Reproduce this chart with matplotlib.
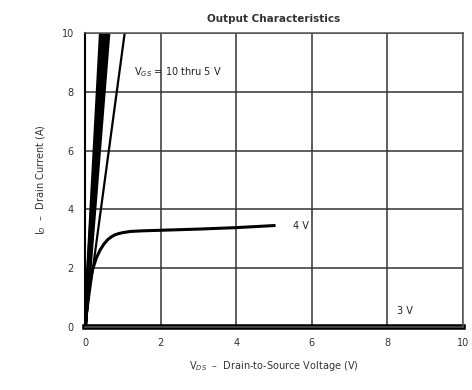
import numpy as np
import matplotlib.pyplot as plt

# drain current vs drain-source voltage
vgs_high = [10, 9, 8, 7, 6]
vds_at_10a = [0.42, 0.46, 0.51, 0.56, 0.62]
vds_5v = [0.0, 1.05]
id_5v = [0.0, 10.0]

vds_4v = [0.0, 0.1, 0.2, 0.3, 0.4, 0.5, 0.6, 0.7, 0.8, 0.9, 1.0, 1.2, 1.5, 2.0, 3.0, 4.0, 5.0]
id_4v = [0.0, 1.3, 1.95, 2.35, 2.62, 2.82, 2.97, 3.07, 3.14, 3.18, 3.21, 3.25, 3.27, 3.29, 3.33, 3.38, 3.45]

vds_3v = [0.0, 10.0]
id_3v = [0.0, 0.0]

xticks = [0, 2, 4, 6, 8, 10]
yticks = [0, 2, 4, 6, 8, 10]

fig = plt.figure(figsize=(4.72, 3.9), dpi=100)
ax = fig.add_axes([85 / 472, 63 / 390, 378 / 472, 294 / 390])

for v, x_end in zip(vgs_high, vds_at_10a):
    ax.plot([0, x_end], [0, 10], color='black', lw=2.8, solid_capstyle='butt')
ax.plot(vds_5v, id_5v, color='black', lw=1.6)
ax.plot(vds_4v, id_4v, color='black', lw=2.2)
ax.plot(vds_3v, id_3v, color='black', lw=4, clip_on=False)

ax.set_xlim(0, 10)
ax.set_ylim(0, 10)
ax.set_xticks(xticks)
ax.set_yticks(yticks)
ax.grid(True, color='#333333', lw=1.1)
ax.tick_params(length=0, labelsize=7, colors='#333333', pad=8)
for s in ax.spines.values():
    s.set_color('#555555')
    s.set_linewidth(1.1)
ax.spines['left'].set_color('black')
ax.spines['left'].set_linewidth(1.5)

ax.text(1.3, 8.55, 'V$_{GS}$ = 10 thru 5 V', fontsize=7, color='#222222')
ax.text(5.5, 3.35, '4 V', fontsize=7, color='#222222')
ax.text(8.25, 0.45, '3 V', fontsize=7, color='#222222')

ax.set_title('Output Characteristics', fontsize=7.5, fontweight='bold', color='#333333', pad=8)
ax.set_xlabel('V$_{DS}$  \u2013  Drain-to-Source Voltage (V)', fontsize=7, color='#333333', labelpad=8)
ax.set_ylabel('I$_D$  \u2013  Drain Current (A)', fontsize=7, color='#333333', labelpad=10)

fig.savefig('out.png', dpi=100)
